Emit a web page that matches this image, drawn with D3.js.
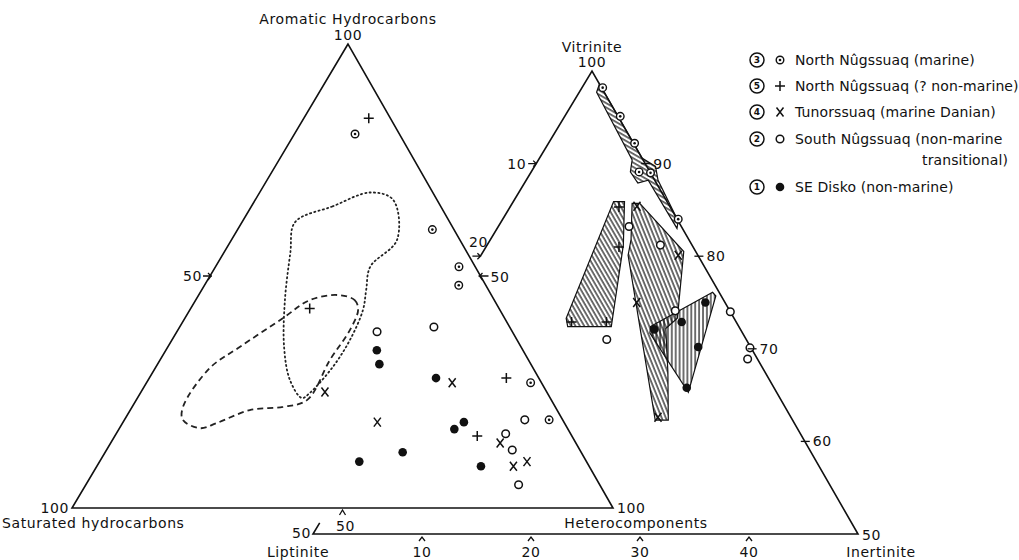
<!DOCTYPE html>
<html>
<head>
<meta charset="utf-8">
<script src="https://cdn.jsdelivr.net/npm/d3@7"></script>
<style>
body{margin:0;background:#fff}
svg{display:block}
text{font-family:"DejaVu Sans",sans-serif;fill:#111;font-size:14px;letter-spacing:0.6px}
text.leg{letter-spacing:0.1px}
</style>
</head>
<body>
<svg id="chart" width="1019" height="560"></svg>
<script>
// left diagram, values as [aromatic %, heterocomponents %] (saturated = the rest)
let hcMarine=[[80.6,11.2],[60,36],[52,45],[48,47],[27,71],[19,78.5]];
let hcNonMarine=[[84,12],[43,22],[28,66],[15.5,67]];
let hcDanian=[[25,34],[27,56.5],[18.5,47],[14,72],[9,77],[10,79]];
let hcSouth=[[38,37],[39,47],[19,74],[16,72],[12.5,75],[5,80]];
let hcDisko=[[34,39],[31,41],[28,53],[18.5,63],[17,62],[12,55],[10,48],[9,71]];
let hcDotted=[[61.6,9.8],[65,15],[68,20.5],[66.4,25.5],[57.8,30.6],[52,28.6],[47,30.4],[42.7,32],[36.2,32.9],[30.4,32.7],[24.8,31.3],[23.7,30.4],[27.6,26.2],[34.7,21.5],[44.8,16.5],[55,12.3]];
let hcDashed=[[45.9,25.6],[44.8,29.4],[42.7,31.1],[38.4,31.8],[31.9,31.4],[23.3,31.6],[21.8,27.9],[21.1,22.1],[18.3,17.4],[17.2,14.9],[19,10.8],[21.8,9.4],[30.2,10.1],[34.7,13.3],[40.9,18.1],[44.8,21.1]];

// right diagram, values as [vitrinite %, inertinite %] (liptinite = the rest)
let mcMarine=[[98.2,1.9],[95.1,5.1],[92.2,7.9],[89.1,9.9],[89,11],[84,16.1]];
let mcNonMarine=[[85.3,10],[81,12.2],[72.9,12],[72.9,15.2]];
let mcDanian=[[85.4,11.6],[80.1,18.1],[75,16.9],[62.6,25.2]];
let mcSouth=[[83.2,12],[71,16.2],[81.2,15.9],[74.1,20.9],[74,26],[70.1,29.8],[68.9,30.2]];
let mcDisko=[[72.1,20],[72.9,22.1],[75,23.2],[70.2,25],[65.8,26.2]];
let areaMarine=[[97.7,1.6],[98.6,1.4],[90.6,9.4],[89.7,11.1],[88.2,12.1],[83.8,16.2],[83,16.5],[88.2,11.2],[87.9,10.4],[89.1,9.1],[90.4,8.6]];
let areaNonMarine=[[85.9,9.2],[85.9,10.2],[81.2,12.5],[72.4,15.9],[72.4,11.9],[73.3,11.3]];
let areaDanian=[[85.7,11],[85.7,11.7],[80.5,18.4],[73.3,21.5],[72.2,21],[67.5,23.6],[62.3,26.3],[62.3,25.1],[80.1,13.5],[81.8,12.9]];
let areaDisko=[[72.4,19.5],[76.1,23.3],[75.7,23.8],[65.3,26.6],[71.7,19.8]];

let legendNames=["North Nûgssuaq (marine)","North Nûgssuaq (? non-marine)","Tunorssuaq (marine Danian)","South Nûgssuaq (non-marine","SE  Disko (non-marine)"];
let legendNums=["3","5","4","2","1"];
let legendSyms=["marine","plus","cross","open","dot"];
let vitTicks=[90,80,70,60];
let inertTicks=[10,20,30,40];
let liptTicks=[10,20];

let svg=d3.select("#chart");

// left triangle: aromatic (top), saturated (left), heterocomponents (right)
let yLeft=d3.scaleLinear().domain([0,100]).range([508,44]);
let LA=[348,44],LS=[72,508],LH=[613,508];
function pL(d){
  let a=d[0]/100,h=d[1]/100,s=1-a-h;
  return [LA[0]*a+LS[0]*s+LH[0]*h, yLeft(d[0])];
}
// right triangle: vitrinite 50-100 (top), liptinite (left), inertinite (right)
let yRight=d3.scaleLinear().domain([50,100]).range([534,71]);
let RV=[592,71],RL=[313,534],RI=[858,534];
function pR(d){
  let v=(d[0]-50)/50,i=d[1]/50,l=1-v-i;
  return [RV[0]*v+RL[0]*l+RI[0]*i, yRight(d[0])];
}

let defs=svg.append("defs");
function hatch(id,angle,gap){
  defs.append("pattern").attr("id",id).attr("patternUnits","userSpaceOnUse")
    .attr("width",gap).attr("height",10).attr("patternTransform","rotate("+angle+")")
    .append("line").attr("x1",1).attr("x2",1).attr("y1",0).attr("y2",10)
    .attr("stroke","#111").attr("stroke-width",1.2);
}
hatch("hStrip",-60,3.8);
hatch("hLeft",-30,3.8);
hatch("hMid",-22,3.8);
hatch("hDisko",0,3.9);

let line=d3.line();
let g=svg.append("g").attr("fill","none").attr("stroke","#111").attr("stroke-width",1.6);

// left triangle
g.append("path").attr("d",line([pL([100,0]),pL([0,0]),pL([0,100])])+"Z");
// right triangle (left edge hidden behind left diagram)
g.append("path").attr("d",line([pR([80,0]),pR([100,0]),pR([50,50]),pR([50,0]),pR([51.2,0])]));

// outlines in left diagram
svg.append("path").attr("d",d3.line().curve(d3.curveCatmullRomClosed)(hcDotted.map(pL)))
  .attr("fill","none").attr("stroke","#222").attr("stroke-width",1.8).attr("stroke-dasharray","1.2,3.2").attr("stroke-linecap","round");
svg.append("path").attr("d",d3.line().curve(d3.curveCatmullRomClosed)(hcDashed.map(pL)))
  .attr("fill","none").attr("stroke","#222").attr("stroke-width",1.8).attr("stroke-dasharray","6,4");

// hatched fields in right diagram
[[areaMarine,"hStrip"],[areaNonMarine,"hLeft"],[areaDanian,"hMid"],[areaDisko,"hDisko"]].forEach(a=>{
  svg.append("path").attr("d",line(a[0].map(pR))+"Z")
    .attr("fill","url(#"+a[1]+")").attr("stroke","#111").attr("stroke-width",1.2);
});

function sym(sel,type,p){
  let x=p[0],y=p[1];
  if(type=="marine"){
    sel.append("circle").attr("cx",x).attr("cy",y).attr("r",3.8).attr("fill","#fff").attr("stroke","#111").attr("stroke-width",1.4);
    sel.append("circle").attr("cx",x).attr("cy",y).attr("r",1.3).attr("fill","#111");
  } else if(type=="open"){
    sel.append("circle").attr("cx",x).attr("cy",y).attr("r",3.8).attr("fill","#fff").attr("stroke","#111").attr("stroke-width",1.5);
  } else if(type=="dot"){
    sel.append("circle").attr("cx",x).attr("cy",y).attr("r",4.3).attr("fill","#111");
  } else if(type=="plus"){
    sel.append("path").attr("d",`M${x-5},${y}H${x+5}M${x},${y-5}V${y+5}`).attr("stroke","#111").attr("stroke-width",1.5);
  } else {
    sel.append("path").attr("d",`M${x-3.5},${y-4.5}L${x+3.5},${y+4.5}M${x+3.5},${y-4.5}L${x-3.5},${y+4.5}`).attr("stroke","#111").attr("stroke-width",1.5);
  }
}
let mk=svg.append("g");
[[hcMarine,"marine"],[hcNonMarine,"plus"],[hcDanian,"cross"],[hcSouth,"open"],[hcDisko,"dot"]].forEach(s=>{
  s[0].forEach(d=>sym(mk,s[1],pL(d)));
});
[[mcMarine,"marine"],[mcNonMarine,"plus"],[mcDanian,"cross"],[mcSouth,"open"],[mcDisko,"dot"]].forEach(s=>{
  s[0].forEach(d=>sym(mk,s[1],pR(d)));
});

// ticks and labels
let tk=svg.append("g").attr("stroke","#111").attr("stroke-width",1.3).attr("fill","none");
function txt(x,y,s,anchor,cls){
  return svg.append("text").attr("x",x).attr("y",y).attr("text-anchor",anchor||"middle").attr("dy","0.35em").attr("class",cls||null).text(s);
}
// left diagram 50% ticks
let t1=pL([50,0]);
tk.append("path").attr("d",`M${t1[0]-7},${t1[1]}H${t1[0]+2}M${t1[0]-2},${t1[1]-3}L${t1[0]+1},${t1[1]}L${t1[0]-2},${t1[1]+4}`);
txt(t1[0]-8,t1[1],"50","end");
let t2=pL([50,50]);
tk.append("path").attr("d",`M${t2[0]-2},${t2[1]}H${t2[0]+8}M${t2[0]+2},${t2[1]-3}L${t2[0]-1},${t2[1]}L${t2[0]+2},${t2[1]+4}`);
txt(t2[0]+10,t2[1]+1,"50","start");
let t3=pL([0,50]);
tk.append("path").attr("d",`M${t3[0]-3},${t3[1]+7}L${t3[0]},${t3[1]+2}L${t3[0]+3},${t3[1]+7}`);
txt(t3[0]+3,t3[1]+18,"50");

// vitrinite ticks on right edge
vitTicks.forEach(v=>{
  let p=pR([v,100-v]);
  tk.append("path").attr("d",`M${p[0]-4},${p[1]}H${p[0]+5}`);
  txt(p[0]+8,p[1],v,"start");
});
// liptinite ticks on left edge
liptTicks.forEach(l=>{
  let p=pR([100-l,0]);
  tk.append("path").attr("d",`M${p[0]-8},${p[1]}H${p[0]}M${p[0]-3},${p[1]-3}L${p[0]},${p[1]}L${p[0]-3},${p[1]+3}`);
  if(l==10) txt(p[0]-10,p[1],l,"end");
  else txt(p[0]-2,p[1]-14,l);
});
// inertinite ticks on the base
inertTicks.forEach(i=>{
  let p=pR([50,i]);
  tk.append("path").attr("d",`M${p[0]-3},${p[1]+7}L${p[0]},${p[1]+3}L${p[0]+3},${p[1]+7}`);
  txt(p[0],p[1]+18,i);
});

// corner labels
let a0=pL([100,0]);
txt(a0[0],a0[1]-25,"Aromatic  Hydrocarbons");
txt(a0[0],a0[1]-9,"100");
let s0=pL([0,0]);
txt(s0[0]-3,s0[1],"100","end");
txt(2,s0[1]+15,"Saturated  hydrocarbons","start");
let h0=pL([0,100]);
txt(h0[0]+4,h0[1],"100","start");
txt(h0[0]+23,h0[1]+15,"Heterocomponents");
let v0=pR([100,0]);
txt(v0[0],v0[1]-24,"Vitrinite");
txt(v0[0],v0[1]-9,"100");
let l0=pR([50,0]);
txt(l0[0]-2,l0[1]-1,"50","end");
txt(l0[0]-15,l0[1]+18,"Liptinite");
let i0=pR([50,50]);
txt(i0[0]+4,i0[1]+1,"50","start");
txt(i0[0]+23,i0[1]+18,"Inertinite");

// legend
let legY=[60,86,112,139,187];
legendNames.forEach((n,k)=>{
  let lg=svg.append("g");
  lg.append("circle").attr("cx",757).attr("cy",legY[k]).attr("r",7).attr("fill","none").attr("stroke","#111").attr("stroke-width",1.5);
  lg.append("text").attr("x",757).attr("y",legY[k]).attr("dy","0.35em").attr("text-anchor","middle").style("font-size","9px").style("font-weight","bold").style("letter-spacing","0").text(legendNums[k]);
  sym(lg,legendSyms[k],[780,legY[k]]);
  txt(795,legY[k],n,"start","leg");
});
txt(1008,160,"transitional)","end","leg");
</script>
</body>
</html>
